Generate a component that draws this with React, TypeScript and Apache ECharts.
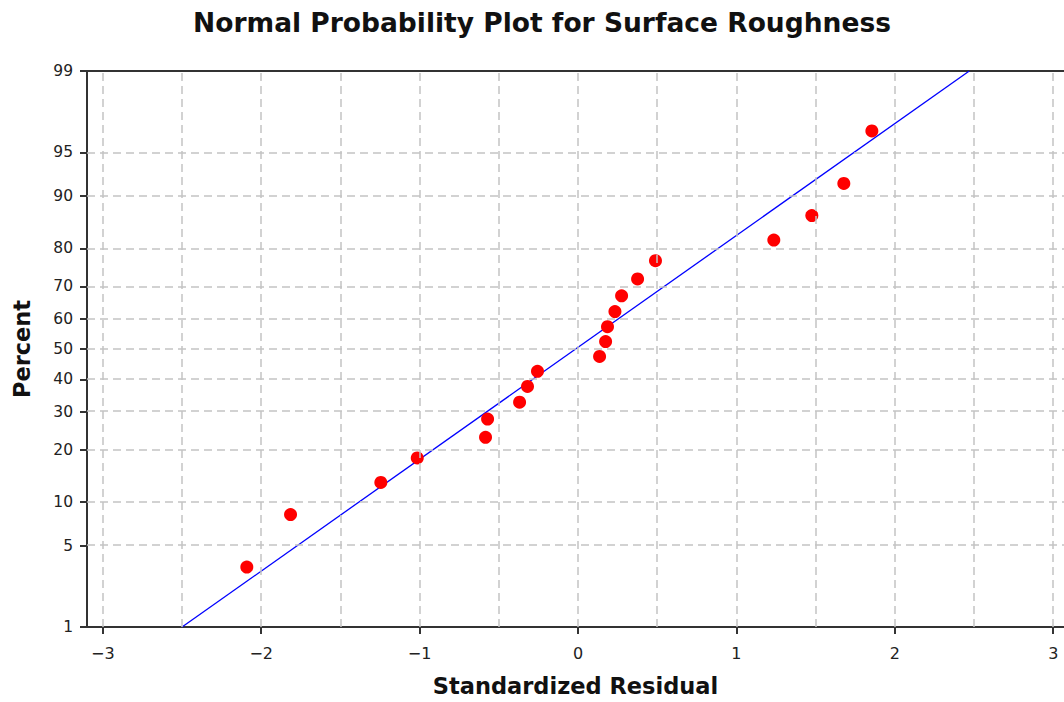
import React, { useEffect, useRef } from "react";
import * as echarts from "echarts";

// Standardized residuals (x) and their plotting percents (y)
const residuals = [
  -2.091, -1.815, -1.245, -1.015, -0.584, -0.571, -0.369, -0.319, -0.256, 0.136,
  0.174, 0.186, 0.233, 0.275, 0.376, 0.489, 1.236, 1.476, 1.678, 1.855,
];
const percents = [
  3.4, 8.3, 13.2, 18.1, 23.0, 27.9, 32.8, 37.7, 42.6, 47.5,
  52.5, 57.4, 62.3, 67.2, 72.1, 77.0, 81.9, 86.8, 91.7, 96.6,
];
// Fitted reference line endpoints
const fitX = [-2.5, 2.47];
const fitPct = [1, 99];
// Axis ticks
const percentTicks = [1, 5, 10, 20, 30, 40, 50, 60, 70, 80, 90, 95, 99];
const xTicks = [-3, -2, -1, 0, 1, 2, 3];
const xGrid = [-3, -2.5, -2, -1.5, -1, -0.5, 0, 0.5, 1, 1.5, 2, 2.5, 3];
const xMin = -3.1;
const xMax = 3.068;

// Inverse standard normal CDF (Acklam) – probability-scale transform
function invNorm(p: number): number {
  const a = [-3.969683028665376e1, 2.209460984245205e2, -2.759285104469687e2, 1.38357751867269e2, -3.066479806614716e1, 2.506628277459239];
  const b = [-5.447609879822406e1, 1.615858368580409e2, -1.556989798598866e2, 6.680131188771972e1, -1.328068155288572e1];
  const c = [-7.784894002430293e-3, -3.223964580411365e-1, -2.400758277161838, -2.549732539343734, 4.374664141464968, 2.938163982698783];
  const d = [7.784695709041462e-3, 3.224671290700398e-1, 2.445134137142996, 3.754408661907416];
  const pl = 0.02425;
  let q: number, r: number;
  if (p < pl) {
    q = Math.sqrt(-2 * Math.log(p));
    return (((((c[0] * q + c[1]) * q + c[2]) * q + c[3]) * q + c[4]) * q + c[5]) / ((((d[0] * q + d[1]) * q + d[2]) * q + d[3]) * q + 1);
  }
  if (p <= 1 - pl) {
    q = p - 0.5;
    r = q * q;
    return ((((((a[0] * r + a[1]) * r + a[2]) * r + a[3]) * r + a[4]) * r + a[5]) * q) / (((((b[0] * r + b[1]) * r + b[2]) * r + b[3]) * r + b[4]) * r + 1);
  }
  q = Math.sqrt(-2 * Math.log(1 - p));
  return -(((((c[0] * q + c[1]) * q + c[2]) * q + c[3]) * q + c[4]) * q + c[5]) / ((((d[0] * q + d[1]) * q + d[2]) * q + d[3]) * q + 1);
}
const pz = (pct: number) => invNorm(pct / 100);

export default function App() {
  const ref = useRef<HTMLDivElement>(null);
  useEffect(() => {
    document.body.style.margin = "0";
    if (!ref.current) return;
    const chart = echarts.init(ref.current, undefined, { renderer: "svg" });
    const tickZ = percentTicks.map(pz);
    const labelFor = (v: number) => {
      let best = percentTicks[0];
      let bd = Infinity;
      percentTicks.forEach((p, i) => {
        const dd = Math.abs(tickZ[i] - v);
        if (dd < bd) { bd = dd; best = p; }
      });
      return String(best);
    };
    const font = "DejaVu Sans";
    const axisColor = "#333";
    const gridLine = { color: "#c4c4c4", type: [8, 5] as any, width: 1.5 };
    chart.setOption({
      animation: false,
      backgroundColor: "#ffffff",
      title: {
        text: "Normal Probability Plot for Surface Roughness",
        left: 537,
        top: 4,
        textAlign: "center",
        textStyle: { fontFamily: font, fontSize: 26.5, fontWeight: "bold", color: "#111" },
      },
      grid: { left: 87, top: 71, bottom: 75, right: 0, show: false },
      xAxis: [
        {
          type: "value",
          min: xMin,
          max: xMax,
          name: "Standardized Residual",
          nameLocation: "middle",
          nameGap: 47,
          nameTextStyle: { fontFamily: font, fontSize: 22.5, fontWeight: "bold", color: "#111" },
          axisLine: { show: true, onZero: false, lineStyle: { color: axisColor, width: 2 } },
          axisTick: { show: true, length: 7, lineStyle: { color: axisColor, width: 2 }, customValues: xTicks },
          axisLabel: {
            fontFamily: font, fontSize: 16, color: "#222", margin: 18, customValues: xTicks,
            formatter: (v: number) => (v < 0 ? "\u2212" + Math.abs(v) : String(v)),
          },
          splitLine: { show: false },
        },
        {
          type: "value",
          position: "top",
          min: xMin,
          max: xMax,
          axisLine: { show: true, onZero: false, lineStyle: { color: axisColor, width: 2 } },
          axisTick: { show: false },
          axisLabel: { show: false },
          splitLine: { show: false },
        },
      ],
      yAxis: {
        type: "value",
        min: pz(1),
        max: pz(99),
        name: "Percent",
        nameLocation: "middle",
        nameGap: 54,
        nameTextStyle: { fontFamily: font, fontSize: 22.5, fontWeight: "bold", color: "#111" },
        axisLine: { show: true, onZero: false, lineStyle: { color: axisColor, width: 2 } },
        axisTick: { show: true, length: 7, lineStyle: { color: axisColor, width: 2 }, customValues: tickZ },
        axisLabel: { fontFamily: font, fontSize: 15.5, color: "#222", margin: 14, customValues: tickZ, formatter: (v: number) => labelFor(v) },
        splitLine: { show: false },
      },
      series: [
        {
          type: "line",
          data: [],
          z: 1,
          silent: true,
          markLine: {
            silent: true,
            symbol: "none",
            label: { show: false },
            lineStyle: gridLine,
            data: [
              ...xGrid.map((v) => ({ xAxis: v })),
              ...percentTicks.filter((p) => p > 1 && p < 99).map((p) => ({ yAxis: pz(p) })),
            ],
          },
        },
        {
          type: "line",
          data: fitX.map((x, i) => [x, pz(fitPct[i])]),
          showSymbol: false,
          symbol: "none",
          lineStyle: { color: "#0000ff", width: 1.3 },
          z: 3,
        },
        {
          type: "scatter",
          data: residuals.map((x, i) => [x, pz(percents[i])]),
          symbol: "circle",
          symbolSize: 13,
          itemStyle: { color: "#ff0000", opacity: 1 },
          z: 4,
        },
      ],
    });
    return () => chart.dispose();
  }, []);
  return <div ref={ref} style={{ width: 1064, height: 702 }} />;
}
